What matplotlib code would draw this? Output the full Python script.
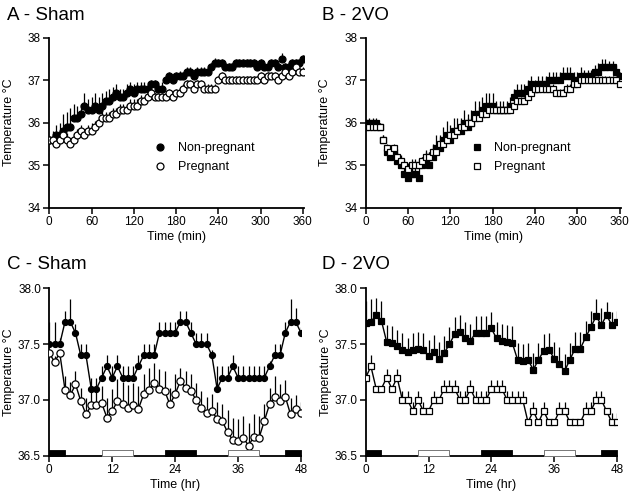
import matplotlib
matplotlib.use("Agg")
import matplotlib.pyplot as plt
import numpy as np

plt.rcParams["font.family"] = ["Liberation Sans", "DejaVu Sans"]

# ── data ──────────────────────────────────────────────────────────────────────
time_min = list(range(0, 365, 5))      # panels A/B, every 5 min
time_hr = list(range(0, 49))           # panels C/D, hourly

sham_np = [35.6, 35.6, 35.7, 35.7, 35.8, 35.9, 35.9, 36.1, 36.1, 36.2, 36.4, 36.3,
           36.3, 36.4, 36.3, 36.4, 36.5, 36.5, 36.6, 36.7, 36.6, 36.6, 36.7, 36.8,
           36.7, 36.8, 36.8, 36.8, 36.8, 36.9, 36.9, 36.8, 36.8, 37.0, 37.1, 37.0,
           37.1, 37.1, 37.1, 37.2, 37.2, 37.1, 37.2, 37.2, 37.2, 37.2, 37.3, 37.4,
           37.4, 37.4, 37.3, 37.3, 37.3, 37.4, 37.4, 37.4, 37.4, 37.4, 37.4, 37.3,
           37.4, 37.3, 37.3, 37.4, 37.4, 37.3, 37.5, 37.3, 37.3, 37.4, 37.4, 37.4,
           37.5]
sham_np_err = [0.0, 0.2, 0.25, 0.3, 0.4, 0.35, 0.45, 0.35, 0.3, 0.25, 0.3, 0.25,
               0.3, 0.3, 0.3, 0.3, 0.25, 0.3, 0.25, 0.2, 0.2, 0.2, 0.2, 0.15,
               0.2, 0.15, 0.15, 0.15, 0.15, 0.1, 0.1, 0.15, 0.15, 0.1, 0.1, 0.1,
               0.1, 0.12, 0.1, 0.1, 0.12, 0.1, 0.1, 0.1, 0.1, 0.1, 0.1, 0.12,
               0.1, 0.1, 0.1, 0.1, 0.1, 0.1, 0.1, 0.1, 0.1, 0.1, 0.1, 0.1,
               0.1, 0.1, 0.1, 0.1, 0.1, 0.1, 0.15, 0.1, 0.1, 0.1, 0.1, 0.1,
               0.1]
sham_pg = [35.6, 35.6, 35.5, 35.6, 35.7, 35.6, 35.5, 35.6, 35.7, 35.8, 35.7, 35.8,
           35.8, 35.9, 36.0, 36.1, 36.1, 36.1, 36.2, 36.2, 36.3, 36.3, 36.3, 36.4,
           36.4, 36.4, 36.5, 36.5, 36.6, 36.7, 36.6, 36.6, 36.6, 36.6, 36.7, 36.6,
           36.7, 36.7, 36.8, 36.9, 36.9, 36.8, 36.9, 36.9, 36.8, 36.8, 36.8, 36.8,
           37.0, 37.1, 37.0, 37.0, 37.0, 37.0, 37.0, 37.0, 37.0, 37.0, 37.0, 37.0,
           37.1, 37.0, 37.1, 37.1, 37.1, 37.0, 37.1, 37.2, 37.1, 37.2, 37.3, 37.2,
           37.2]
sham_pg_err = [0.0, 0.1, 0.1, 0.1, 0.15, 0.15, 0.15, 0.15, 0.15, 0.15, 0.15, 0.15,
               0.2, 0.15, 0.15, 0.15, 0.15, 0.15, 0.15, 0.15, 0.15, 0.15, 0.15, 0.15,
               0.15, 0.15, 0.15, 0.1, 0.1, 0.1, 0.1, 0.1, 0.1, 0.1, 0.1, 0.1,
               0.1, 0.1, 0.1, 0.1, 0.1, 0.1, 0.1, 0.1, 0.1, 0.1, 0.1, 0.1,
               0.1, 0.1, 0.1, 0.1, 0.1, 0.1, 0.1, 0.1, 0.1, 0.1, 0.1, 0.1,
               0.1, 0.1, 0.1, 0.1, 0.1, 0.1, 0.1, 0.1, 0.1, 0.1, 0.1, 0.1,
               0.1]

vo_np = [36.0, 36.0, 36.0, 36.0, 35.9, 35.6, 35.3, 35.2, 35.3, 35.1, 35.0, 34.8,
         34.7, 34.8, 34.8, 34.7, 35.0, 35.1, 35.0, 35.2, 35.4, 35.4, 35.6, 35.7,
         35.6, 35.8, 35.8, 35.8, 36.0, 35.9, 36.0, 36.2, 36.2, 36.3, 36.4, 36.4,
         36.4, 36.3, 36.3, 36.3, 36.3, 36.4, 36.6, 36.7, 36.7, 36.7, 36.8, 36.9,
         36.8, 36.9, 36.9, 36.9, 37.0, 37.0, 37.0, 37.0, 37.1, 37.1, 37.1, 37.0,
         37.0, 37.1, 37.1, 37.1, 37.1, 37.2, 37.2, 37.3, 37.3, 37.3, 37.3, 37.2,
         37.1]
vo_np_err = [0.05, 0.1, 0.1, 0.1, 0.1, 0.1, 0.15, 0.2, 0.15, 0.2, 0.2, 0.25,
             0.25, 0.25, 0.25, 0.25, 0.2, 0.25, 0.3, 0.3, 0.3, 0.3, 0.3, 0.35,
             0.35, 0.3, 0.3, 0.3, 0.3, 0.3, 0.3, 0.3, 0.3, 0.3, 0.3, 0.3,
             0.3, 0.2, 0.2, 0.2, 0.2, 0.2, 0.2, 0.2, 0.2, 0.2, 0.2, 0.2,
             0.2, 0.2, 0.2, 0.2, 0.2, 0.2, 0.2, 0.2, 0.2, 0.2, 0.2, 0.2,
             0.2, 0.2, 0.15, 0.15, 0.15, 0.15, 0.2, 0.2, 0.2, 0.15, 0.15, 0.15,
             0.1]
vo_pg = [35.9, 35.9, 35.9, 35.9, 35.9, 35.6, 35.4, 35.3, 35.4, 35.2, 35.1, 35.0,
         34.9, 35.0, 35.0, 35.0, 35.1, 35.2, 35.2, 35.3, 35.3, 35.5, 35.5, 35.6,
         35.7, 35.7, 35.8, 35.9, 35.9, 36.0, 36.0, 36.1, 36.1, 36.2, 36.2, 36.3,
         36.3, 36.3, 36.3, 36.3, 36.3, 36.3, 36.4, 36.5, 36.5, 36.5, 36.6, 36.7,
         36.8, 36.8, 36.8, 36.8, 36.8, 36.8, 36.7, 36.7, 36.7, 36.8, 36.8, 36.9,
         36.9, 37.0, 37.0, 37.0, 37.0, 37.0, 37.0, 37.0, 37.0, 37.0, 37.0, 37.0,
         36.9]
vo_pg_err = [0.1, 0.1, 0.1, 0.1, 0.1, 0.1, 0.1, 0.1, 0.1, 0.1, 0.15, 0.15,
             0.15, 0.15, 0.15, 0.15, 0.1, 0.1, 0.1, 0.1, 0.1, 0.1, 0.1, 0.1,
             0.1, 0.1, 0.1, 0.1, 0.1, 0.1, 0.1, 0.1, 0.1, 0.1, 0.1, 0.1,
             0.1, 0.1, 0.1, 0.1, 0.1, 0.1, 0.1, 0.1, 0.1, 0.1, 0.1, 0.1,
             0.1, 0.1, 0.1, 0.1, 0.1, 0.1, 0.1, 0.1, 0.1, 0.1, 0.1, 0.1,
             0.1, 0.1, 0.1, 0.1, 0.1, 0.1, 0.1, 0.1, 0.1, 0.1, 0.1, 0.1,
             0.05]

c_np = [37.5, 37.5, 37.5, 37.7, 37.7, 37.6, 37.4, 37.4, 37.1, 37.1, 37.2, 37.3,
        37.2, 37.3, 37.2, 37.2, 37.2, 37.3, 37.4, 37.4, 37.4, 37.6, 37.6, 37.6,
        37.6, 37.7, 37.7, 37.6, 37.5, 37.5, 37.5, 37.4, 37.1, 37.2, 37.2, 37.3,
        37.2, 37.2, 37.2, 37.2, 37.2, 37.2, 37.3, 37.4, 37.4, 37.6, 37.7, 37.7,
        37.6]
c_np_err = [0.2, 0.2, 0.05, 0.1, 0.2, 0.08, 0.1, 0.1, 0.1, 0.1, 0.1, 0.1,
            0.1, 0.1, 0.1, 0.1, 0.1, 0.1, 0.1, 0.1, 0.1, 0.1, 0.1, 0.1,
            0.1, 0.1, 0.1, 0.1, 0.1, 0.1, 0.1, 0.05, 0.2, 0.1, 0.1, 0.1,
            0.1, 0.1, 0.1, 0.1, 0.1, 0.1, 0.05, 0.1, 0.1, 0.1, 0.2, 0.12,
            0.05]
c_pg = [37.42, 37.34, 37.42, 37.09, 37.04, 37.14, 36.99, 36.87, 36.95, 36.95, 36.97, 36.84,
        36.90, 36.99, 36.96, 36.93, 36.95, 36.92, 37.05, 37.09, 37.15, 37.10, 37.08, 36.96,
        37.05, 37.17, 37.11, 37.08, 37.00, 36.93, 36.88, 36.90, 36.83, 36.81, 36.71, 36.64,
        36.63, 36.66, 36.59, 36.67, 36.66, 36.81, 36.96, 37.03, 36.99, 37.03, 36.87, 36.92,
        36.88]
c_pg_err = [0.0, 0.05, 0.0, 0.12, 0.12, 0.12, 0.12, 0.15, 0.15, 0.15, 0.15, 0.18,
            0.2, 0.2, 0.2, 0.2, 0.2, 0.2, 0.18, 0.2, 0.18, 0.18, 0.18, 0.15,
            0.18, 0.12, 0.15, 0.15, 0.15, 0.15, 0.15, 0.15, 0.15, 0.15, 0.2, 0.2,
            0.2, 0.2, 0.2, 0.2, 0.2, 0.15, 0.15, 0.18, 0.15, 0.15, 0.15, 0.12,
            0.1]

d_np = [37.69, 37.70, 37.76, 37.71, 37.52, 37.51, 37.48, 37.45, 37.43, 37.45, 37.46, 37.45,
        37.39, 37.43, 37.37, 37.42, 37.50, 37.59, 37.61, 37.55, 37.53, 37.60, 37.60, 37.60,
        37.64, 37.55, 37.53, 37.52, 37.51, 37.36, 37.35, 37.36, 37.27, 37.36, 37.44, 37.45,
        37.37, 37.32, 37.26, 37.36, 37.46, 37.46, 37.56, 37.65, 37.75, 37.67, 37.76, 37.67,
        37.70]
d_np_err = [0.2, 0.2, 0.15, 0.18, 0.15, 0.15, 0.15, 0.15, 0.12, 0.15, 0.15, 0.15,
            0.15, 0.15, 0.15, 0.15, 0.15, 0.15, 0.15, 0.15, 0.15, 0.15, 0.15, 0.15,
            0.15, 0.15, 0.15, 0.15, 0.15, 0.15, 0.15, 0.15, 0.15, 0.15, 0.15, 0.15,
            0.15, 0.15, 0.15, 0.15, 0.15, 0.15, 0.15, 0.15, 0.15, 0.15, 0.12, 0.12,
            0.1]
d_pg = [37.2, 37.3, 37.1, 37.1, 37.2, 37.1, 37.2, 37.0, 37.0, 36.9, 37.0, 36.9,
        36.9, 37.0, 37.0, 37.1, 37.1, 37.1, 37.0, 37.0, 37.1, 37.0, 37.0, 37.0,
        37.1, 37.1, 37.1, 37.0, 37.0, 37.0, 37.0, 36.8, 36.9, 36.8, 36.9, 36.8,
        36.8, 36.9, 36.9, 36.8, 36.8, 36.8, 36.9, 36.9, 37.0, 37.0, 36.9, 36.8,
        36.8]
d_pg_err = [0.0, 0.1, 0.0, 0.0, 0.08, 0.0, 0.08, 0.08, 0.08, 0.08, 0.08, 0.08,
            0.0, 0.08, 0.0, 0.08, 0.08, 0.08, 0.08, 0.08, 0.08, 0.08, 0.08, 0.08,
            0.08, 0.08, 0.08, 0.08, 0.08, 0.08, 0.08, 0.0, 0.08, 0.0, 0.08, 0.0,
            0.0, 0.08, 0.08, 0.0, 0.0, 0.0, 0.08, 0.08, 0.08, 0.08, 0.0, 0.08,
            0.08]

# light/dark bars (start hr, duration hr)
dark_periods = [(0, 3), (22, 6), (45, 3)]
light_periods = [(10, 6), (34, 6)]


def style_axes(ax):
    for s in ("top", "right"):
        ax.spines[s].set_visible(False)
    for s in ("left", "bottom"):
        ax.spines[s].set_linewidth(1.3)
    ax.tick_params(direction="out", length=4, width=1.1, labelsize=8.5, pad=2)


def series(ax, x, y, err, marker, filled, ms, line=False):
    y = np.asarray(y)
    err = np.asarray(err)
    # upper half of the error bar only
    ax.errorbar(x, y, yerr=[np.zeros_like(err), err], fmt="none",
                ecolor="black", elinewidth=0.9, capsize=0, zorder=2)
    return ax.plot(x, y, marker=marker, ls="-" if line else "none",
                   lw=1.0, color="black", ms=ms, mew=0.9,
                   mfc="black" if filled else "white", mec="black",
                   zorder=3)[0]


fig = plt.figure(figsize=(6.35, 4.99), dpi=100)

axA = fig.add_axes([0.0776, 0.5838, 0.4016, 0.3407])
axB = fig.add_axes([0.5759, 0.5838, 0.4020, 0.3407])
axC = fig.add_axes([0.0776, 0.0868, 0.3964, 0.3355])
axD = fig.add_axes([0.5759, 0.0868, 0.3958, 0.3355])

# A / B – minutes
for ax, np_, npe, pg, pge, mk in ((axA, sham_np, sham_np_err, sham_pg, sham_pg_err, "o"),
                                  (axB, vo_np, vo_np_err, vo_pg, vo_pg_err, "s")):
    ms = 5.0 if mk == "o" else 4.6
    h1 = series(ax, time_min, np_, npe, mk, True, ms)
    h2 = series(ax, time_min, pg, pge, mk, False, ms)
    ax.set_xlim(0, 362)
    ax.set_ylim(34, 38)
    ax.set_xticks([0, 60, 120, 180, 240, 300, 360])
    ax.set_yticks([34, 35, 36, 37, 38])
    ax.set_xlabel("Time (min)", fontsize=9, labelpad=2)
    ax.set_ylabel("Temperature °C", fontsize=9)
    style_axes(ax)
    ax.legend([h1, h2], ["Non-pregnant", "Pregnant"], loc="upper left",
              bbox_to_anchor=(0.41, 0.385), frameon=False, fontsize=9,
              handlelength=1.0, handletextpad=0.9, borderpad=0,
              borderaxespad=0, labelspacing=0.55)

# C / D – hours
for ax, np_, npe, pg, pge, mk in ((axC, c_np, c_np_err, c_pg, c_pg_err, "o"),
                                  (axD, d_np, d_np_err, d_pg, d_pg_err, "s")):
    series(ax, time_hr, np_, npe, mk, True, 4.3 if mk == "o" else 4.2, line=True)
    series(ax, time_hr, pg, pge, mk, False, 5.2 if mk == "o" else 4.8, line=True)
    ax.broken_barh(dark_periods, (36.5, 0.055), facecolors="black",
                   edgecolors="black", lw=0.6, zorder=4, clip_on=False)
    ax.broken_barh(light_periods, (36.5, 0.055), facecolors="white",
                   edgecolors="#777777", lw=0.7, zorder=4, clip_on=False)
    ax.set_xlim(0, 48)
    ax.set_ylim(36.5, 38.0)
    ax.set_xticks([0, 12, 24, 36, 48])
    ax.set_yticks([36.5, 37.0, 37.5, 38.0])
    ax.set_yticklabels(["36.5", "37.0", "37.5", "38.0"])
    ax.set_xlabel("Time (hr)", fontsize=9, labelpad=2)
    ax.set_ylabel("Temperature °C", fontsize=9)
    style_axes(ax)

for ax in (axA, axB, axC, axD):
    ax.yaxis.set_label_coords(-0.135, 0.5)

fig.text(0.011, 0.985, "A - Sham", fontsize=13.5, va="top", ha="left")
fig.text(0.507, 0.985, "B - 2VO", fontsize=13.5, va="top", ha="left")
fig.text(0.011, 0.487, "C - Sham", fontsize=13.5, va="top", ha="left")
fig.text(0.507, 0.487, "D - 2VO", fontsize=13.5, va="top", ha="left")

fig.savefig("out.png", dpi=100)
